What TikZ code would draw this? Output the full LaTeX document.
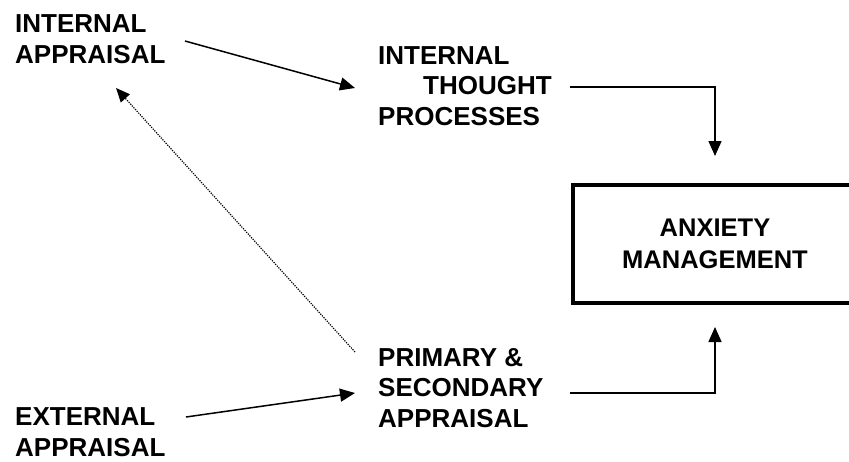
\documentclass[tikz,border=0pt]{standalone}
\usepackage{fontspec}
\setmainfont{Liberation Sans}
\usetikzlibrary{arrows.meta}
\tikzset{
  txt/.style={font=\bfseries\fontsize{26}{30.5}\selectfont, align=left, anchor=base west, inner sep=0pt},
  arr/.style={-{Triangle[length=15pt,width=13pt]}, line width=1.5pt},
  dotarr/.style={-{Triangle[length=14pt,width=12pt]}, line width=1.2pt, dash pattern=on 1.2pt off 1.2pt},
  mainbox/.style={draw, line width=4pt, minimum width=284pt, minimum height=118pt, align=center,
    font=\bfseries\fontsize{25.5}{31.5}\selectfont, inner sep=0pt},
}
\begin{document}
\begin{tikzpicture}[x=1pt,y=-1pt]
\clip (0,0) rectangle (849,461);
% labels (anchored at the baseline of their last line)
\node (intapp) at (15,63.3) [txt] {INTERNAL\\APPRAISAL};
\node (thought) at (378,125) [txt] {INTERNAL\\\hspace*{45pt}THOUGHT\\PROCESSES};
\node (primary) at (378,427) [txt] {PRIMARY \&\\SECONDARY\\APPRAISAL};
\node (extapp) at (15,456) [txt] {EXTERNAL\\APPRAISAL};
\node (anxiety) at (715,244) [mainbox] {ANXIETY\\MANAGEMENT};
% connector ends
\coordinate (ia out) at (185,41);
\coordinate (tp in) at (355,88);
\coordinate (tp out) at (570,87);
\coordinate (ea out) at (186,417);
\coordinate (ps in) at (355,393);
\coordinate (ps out) at (570,393);
\coordinate (ps back) at (355,352);
\coordinate (ia back) at (116,88);
% connectors
\draw[arr] (ia out) -- (tp in);
\draw[arr] (ea out) -- (ps in);
\draw[dotarr] (ps back) -- (ia back);
\draw[arr, shorten >=27pt] (tp out) -| (anxiety.north);
\draw[arr, shorten >=22pt] (ps out) -| (anxiety.south);
\end{tikzpicture}
\end{document}
